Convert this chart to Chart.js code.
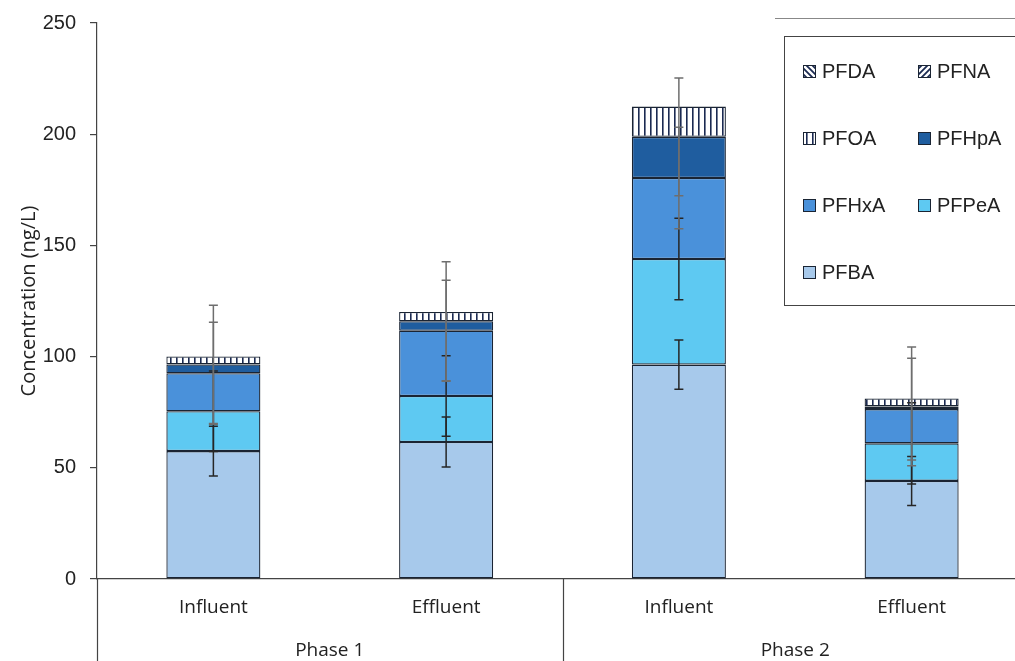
<!DOCTYPE html>
<html>
<head>
<meta charset="utf-8">
<script src="https://cdn.jsdelivr.net/npm/chart.js@4.4.0/dist/chart.umd.min.js"></script>
<style>
  html, body { margin: 0; padding: 0; background: #fff; overflow: hidden; }
  #wrap { position: relative; width: 1028px; height: 664px; margin-top: -3px; }
</style>
</head>
<body>
<div id="wrap"><canvas id="pfasChart"></canvas></div>
<script>
// categories (two level axis)
const samples = ['Influent', 'Effluent', 'Influent', 'Effluent'];
const phases = ['Phase 1', 'Phase 2'];

// stacked concentrations (ng/L), bottom to top
const pfba  = [57.5, 61.6, 96.4, 44.1];
const pfpea = [17.9, 20.7, 47.5, 16.9];
const pfhxa = [17.1, 29.3, 36.4, 15.4];
const pfhpa = [4.0, 4.3, 18.5, 1.2];
const pfoa  = [3.6, 4.2, 13.6, 3.6];
const pfna  = [0, 0, 0, 0];
const pfda  = [0, 0, 0, 0];

// error bars (+/-), drawn at the top of each stacked segment
const errPfba  = [11.2, 11.2, 11.1, 11.0];
const errPfpea = [18.1, 18.1, 18.3, 18.3];
const errPfhxa = [22.9, 22.7, 22.8, 22.9];
const errPfhpa = [26.6, 26.8, 26.5, 26.7];

const yTicks = [0, 50, 100, 150, 200, 250];

const navy = '#1b2a52';
const edge = '#1a2433';

// small hatch tiles for the top three series
function hatch(kind) {
  const c = document.createElement('canvas');
  c.width = 6; c.height = 6;
  const g = c.getContext('2d');
  g.fillStyle = '#fff';
  g.fillRect(0, 0, 6, 6);
  g.strokeStyle = navy;
  g.fillStyle = navy;
  if (kind === 'vertical') {
    g.fillRect(2, 0, 1.6, 6);
  } else {
    g.lineWidth = 1.8;
    g.beginPath();
    if (kind === 'up') {
      g.moveTo(0, 6); g.lineTo(6, 0);
      g.moveTo(-3, 3); g.lineTo(3, -3);
      g.moveTo(3, 9); g.lineTo(9, 3);
    } else {
      g.moveTo(0, 0); g.lineTo(6, 6);
      g.moveTo(-3, 3); g.lineTo(3, 9);
      g.moveTo(3, -3); g.lineTo(9, 3);
    }
    g.stroke();
  }
  return g.createPattern(c, 'repeat');
}

const ctx = document.getElementById('pfasChart').getContext('2d');

const datasets = [
  { label: 'PFBA',  data: pfba,  backgroundColor: '#a7c9eb', err: errPfba,  errColor: '#262626' },
  { label: 'PFPeA', data: pfpea, backgroundColor: '#5ec9f2', err: errPfpea, errColor: '#262626' },
  { label: 'PFHxA', data: pfhxa, backgroundColor: '#4a91da', err: errPfhxa, errColor: '#6e6e6e' },
  { label: 'PFHpA', data: pfhpa, backgroundColor: '#1f5d9f', err: errPfhpa, errColor: '#6e6e6e' },
  { label: 'PFOA',  data: pfoa,  backgroundColor: hatch('vertical') },
  { label: 'PFNA',  data: pfna,  backgroundColor: hatch('up') },
  { label: 'PFDA',  data: pfda,  backgroundColor: hatch('down') }
];
datasets.forEach(d => {
  d.borderColor = edge;
  d.borderWidth = 1.3;
  d.borderSkipped = false;
  d.barPercentage = 1;
  d.categoryPercentage = 0.404;
});

// error bars over the stacked segments
const errorBars = {
  id: 'errorBars',
  afterDatasetsDraw(chart) {
    const c = chart.ctx;
    const y = chart.scales.y;
    c.save();
    c.lineWidth = 1.5;
    chart.data.datasets.forEach((ds, d) => {
      if (!ds.err) return;
      const meta = chart.getDatasetMeta(d);
      meta.data.forEach((bar, i) => {
        let top = 0;
        for (let k = 0; k <= d; k++) top += chart.data.datasets[k].data[i];
        const yHi = y.getPixelForValue(top + ds.err[i]);
        const yLo = y.getPixelForValue(top - ds.err[i]);
        c.strokeStyle = ds.errColor;
        c.beginPath();
        c.moveTo(bar.x, yHi); c.lineTo(bar.x, yLo);
        c.moveTo(bar.x - 4.5, yHi); c.lineTo(bar.x + 4.5, yHi);
        c.moveTo(bar.x - 4.5, yLo); c.lineTo(bar.x + 4.5, yLo);
        c.stroke();
      });
    });
    c.restore();
  }
};

// category labels, group labels, axis title and the boxed legend
const decorations = {
  id: 'decorations',
  afterDraw(chart) {
    const c = chart.ctx;
    const x = chart.scales.x;
    const area = chart.chartArea;
    c.save();

    c.fillStyle = '#222';
    c.textAlign = 'center';
    c.textBaseline = 'middle';
    c.font = '19px "Open Sans", sans-serif';
    samples.forEach((s, i) => c.fillText(s, x.getPixelForValue(i), area.bottom + 29));
    phases.forEach((p, j) => {
      const mid = (x.getPixelForValue(2 * j) + x.getPixelForValue(2 * j + 1)) / 2;
      c.fillText(p, mid, area.bottom + 72);
    });

    // dividers of the two level axis
    c.strokeStyle = '#444';
    c.lineWidth = 1.2;
    c.beginPath();
    [area.left, x.getPixelForValue(1.5), area.right].forEach(px => {
      c.moveTo(Math.round(px) + 0.5, area.bottom);
      c.lineTo(Math.round(px) + 0.5, chart.height);
    });
    c.stroke();

    // y axis title
    c.save();
    c.translate(29, (area.top + area.bottom) / 2);
    c.rotate(-Math.PI / 2);
    c.font = '20px "Open Sans", sans-serif';
    c.fillText('Concentration (ng/L)', 0, 0);
    c.restore();

    // legend box (canvas sits 3px above the page top)
    const lx = 784.5, ly = 39.5;
    c.strokeStyle = '#888';
    c.lineWidth = 1;
    c.beginPath();
    c.moveTo(775, 21.5); c.lineTo(chart.width, 21.5);
    c.stroke();
    c.fillStyle = '#fff';
    c.fillRect(lx, ly, chart.width - lx - 2, 269);
    c.strokeStyle = '#444';
    c.strokeRect(lx, ly, chart.width - lx - 2, 269);

    c.font = '20px "Liberation Sans", Arial, sans-serif';
    c.textAlign = 'left';
    const items = chart.data.datasets.slice().reverse();
    items.forEach((ds, k) => {
      const bx = 803 + (k % 2) * 115;
      const by = 74 + Math.floor(k / 2) * 67;
      c.fillStyle = ds.backgroundColor;
      c.fillRect(bx, by - 6, 13, 13);
      c.strokeStyle = edge;
      c.lineWidth = 1;
      c.strokeRect(bx + 0.5, by - 5.5, 12, 12);
      c.fillStyle = '#222';
      c.fillText(ds.label, bx + 19, by + 1);
    });
    c.restore();
  }
};

new Chart(ctx, {
  type: 'bar',
  data: { labels: samples, datasets: datasets },
  options: {
    responsive: true,
    maintainAspectRatio: false,
    animation: false,
    layout: { padding: { top: 18, right: 0, left: 0, bottom: 0 } },
    plugins: {
      legend: { display: false },
      tooltip: { enabled: false }
    },
    scales: {
      x: {
        stacked: true,
        grid: { display: false },
        border: { display: true, color: '#444', width: 1.2 },
        ticks: { display: false },
        afterFit(scale) { scale.height = 82; }
      },
      y: {
        stacked: true,
        min: yTicks[0],
        max: yTicks[yTicks.length - 1],
        afterBuildTicks(scale) { scale.ticks = yTicks.map(v => ({ value: v })); },
        grid: { drawOnChartArea: false, drawTicks: true, tickLength: 7, color: '#444', lineWidth: 1.2 },
        border: { display: true, color: '#444', width: 1.2 },
        ticks: {
          padding: 14,
          color: '#222',
          font: { family: '"Liberation Sans", Arial, sans-serif', size: 20 }
        },
        afterFit(scale) { scale.width = 97; }
      }
    }
  },
  plugins: [errorBars, decorations]
});
</script>
</body>
</html>
